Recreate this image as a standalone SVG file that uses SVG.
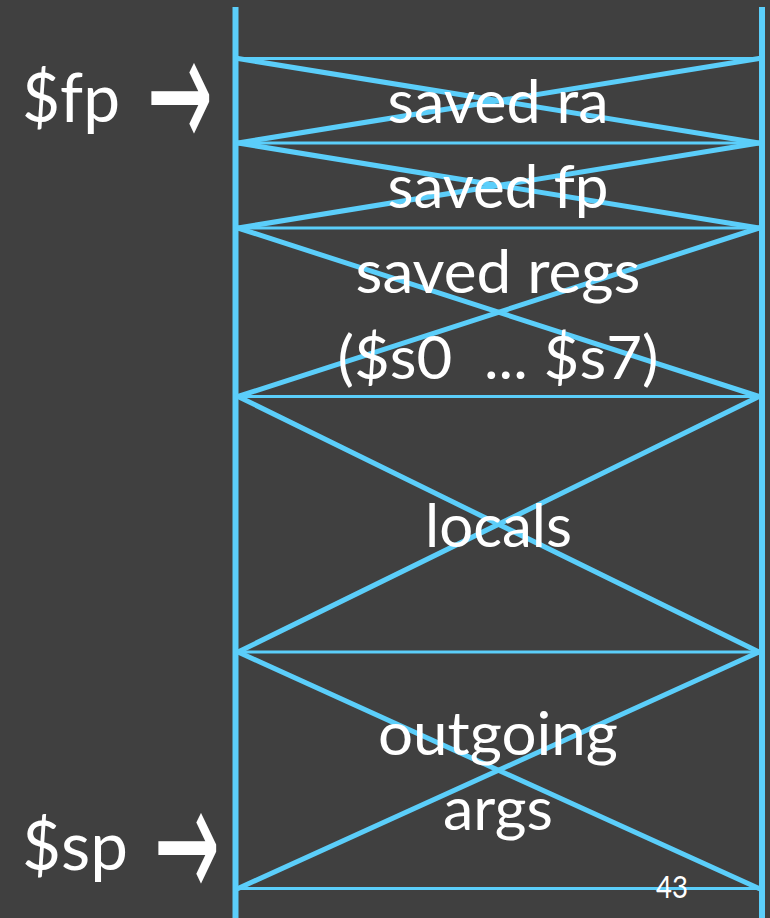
<svg xmlns="http://www.w3.org/2000/svg" width="770" height="918" viewBox="0 0 770 918">
  <style>
    .bg { fill: #404040; }
    .rail { stroke: #5BCEFA; stroke-width: 6; fill: none; }
    .div { stroke: #5BCEFA; stroke-width: 3; fill: none; }
    .x { stroke: #5BCEFA; stroke-width: 5; fill: none; stroke-linecap: round; }
    .lbl { fill: #FFFFFF; font-family: Lato, "Open Sans", "Noto Sans", sans-serif; font-size: 60px; text-anchor: middle; }
    .ptr { fill: #FFFFFF; font-family: Lato, "Open Sans", "Noto Sans", sans-serif; font-size: 68px; }
    .arrow { font-family: "Noto Sans", "DejaVu Sans", sans-serif; font-size: 165px; font-weight: 400; }
    .num { fill: #FFFFFF; font-family: Lato, "Open Sans", sans-serif; font-size: 30px; }
  </style>

  <rect class="bg" x="0" y="0" width="770" height="918"/>

  <!-- stack frame: outer rails and slot dividers -->
  <g id="connectors">
    <line class="rail" x1="235.5" y1="7" x2="235.5" y2="918"/>
    <line class="rail" x1="762" y1="7" x2="762" y2="918"/>

    <line class="div" x1="235" y1="58.5" x2="762" y2="58.5"/>
    <line class="div" x1="235" y1="143" x2="762" y2="143"/>
    <line class="div" x1="235" y1="228" x2="762" y2="228"/>
    <line class="div" x1="235" y1="396.5" x2="762" y2="396.5"/>
    <line class="div" x1="235" y1="652" x2="762" y2="652"/>
    <line class="div" x1="235" y1="888.5" x2="762" y2="888.5"/>
  </g>

  <!-- each slot is crossed out corner to corner -->
  <g id="slot-saved-ra">
    <line class="x" x1="238" y1="58.5" x2="759" y2="143"/>
    <line class="x" x1="238" y1="143" x2="759" y2="58.5"/>
    <text class="lbl" x="498" y="123" textLength="221" lengthAdjust="spacingAndGlyphs">saved ra</text>
  </g>

  <g id="slot-saved-fp">
    <line class="x" x1="238" y1="143" x2="759" y2="228"/>
    <line class="x" x1="238" y1="228" x2="759" y2="143"/>
    <text class="lbl" x="498" y="208" textLength="221" lengthAdjust="spacingAndGlyphs">saved fp</text>
  </g>

  <g id="slot-saved-regs">
    <line class="x" x1="238" y1="228" x2="759" y2="396.5"/>
    <line class="x" x1="238" y1="396.5" x2="759" y2="228"/>
    <text class="lbl" x="498" y="293" textLength="285" lengthAdjust="spacingAndGlyphs">saved regs</text>
    <text class="lbl" x="498" y="379" xml:space="preserve" textLength="321" lengthAdjust="spacingAndGlyphs">($s0  ... $s7)</text>
  </g>

  <g id="slot-locals">
    <line class="x" x1="238" y1="396.5" x2="759" y2="652"/>
    <line class="x" x1="238" y1="652" x2="759" y2="396.5"/>
    <text class="lbl" x="498.5" y="547" textLength="147" lengthAdjust="spacingAndGlyphs">locals</text>
  </g>

  <g id="slot-outgoing-args">
    <line class="x" x1="238" y1="652" x2="759" y2="888.5"/>
    <line class="x" x1="238" y1="888.5" x2="759" y2="652"/>
    <text class="lbl" x="498" y="755" textLength="240" lengthAdjust="spacingAndGlyphs">outgoing</text>
    <text class="lbl" x="498" y="830" textLength="110" lengthAdjust="spacingAndGlyphs">args</text>
  </g>

  <!-- register pointers at the left -->
  <g id="pointer-fp">
    <text class="ptr" y="122"><tspan x="22" textLength="98" lengthAdjust="spacingAndGlyphs">$fp</tspan><tspan class="arrow" x="147" y="150" textLength="66" lengthAdjust="spacingAndGlyphs">→</tspan></text>
  </g>

  <g id="pointer-sp">
    <text class="ptr" y="870"><tspan x="22" textLength="106" lengthAdjust="spacingAndGlyphs">$sp</tspan><tspan class="arrow" x="154" y="900" textLength="66" lengthAdjust="spacingAndGlyphs">→</tspan></text>
  </g>

  <g id="page-number">
    <text class="num" x="656" y="898" textLength="32" lengthAdjust="spacingAndGlyphs">43</text>
  </g>
</svg>
